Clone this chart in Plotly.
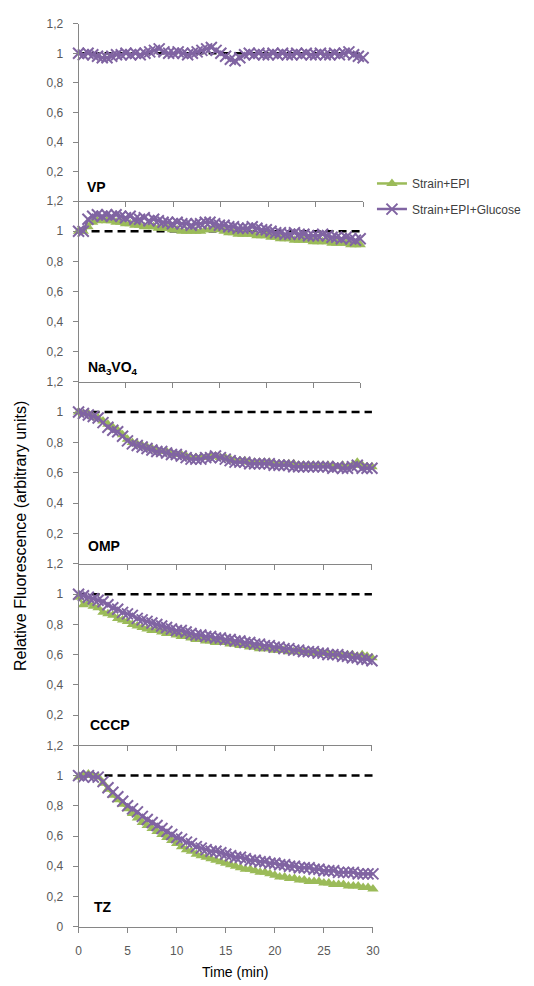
import plotly.graph_objects as go

TIME = [0, 0.5, 1, 1.5, 2, 2.5, 3, 3.5, 4, 4.5, 5, 5.5, 6, 6.5, 7, 7.5, 8, 8.5, 9, 9.5,
        10, 10.5, 11, 11.5, 12, 12.5, 13, 13.5, 14, 14.5, 15, 15.5, 16, 16.5, 17, 17.5,
        18, 18.5, 19, 19.5, 20, 20.5, 21, 21.5, 22, 22.5, 23, 23.5, 24, 24.5, 25, 25.5,
        26, 26.5, 27, 27.5, 28, 28.5, 29, 29.5, 30]

PANELS = ["VP", "Na<sub>3</sub>VO<sub>4</sub>", "OMP", "CCCP", "TZ"]
SERIES = ["Strain+EPI", "Strain+EPI+Glucose"]

VP_GLU = [1.00, 0.99, 1.00, 0.99, 0.98, 0.97, 0.97, 0.98, 0.99, 0.99, 1.00,
          0.99, 1.00, 0.99, 1.00, 1.01, 1.02, 1.03, 1.01, 1.00, 1.00,
          1.01, 1.00, 0.99, 1.00, 1.01, 1.02, 1.03, 1.04, 1.02, 1.00,
          0.98, 0.96, 0.95, 0.97, 0.99, 1.00, 0.99, 1.00, 0.99, 0.99,
          1.00, 0.99, 1.00, 0.99, 0.99, 1.00, 0.99, 1.00, 0.99, 0.99,
          1.00, 0.99, 0.99, 1.00, 0.99, 1.00, 1.01, 0.99, 0.98, 0.97]

NA_EPI = [1.00, 1.00, 1.03, 1.06, 1.07, 1.08, 1.07, 1.07, 1.06, 1.06, 1.05,
          1.05, 1.04, 1.04, 1.03, 1.03, 1.03, 1.02, 1.02, 1.02, 1.01,
          1.01, 1.00, 1.00, 1.00, 1.00, 1.00, 1.01, 1.01, 1.02, 1.01,
          1.00, 0.99, 0.99, 0.98, 0.98, 0.98, 0.98, 0.97, 0.97, 0.97,
          0.96, 0.96, 0.95, 0.95, 0.95, 0.94, 0.94, 0.94, 0.94, 0.93,
          0.93, 0.93, 0.93, 0.92, 0.92, 0.92, 0.92, 0.91, 0.91, 0.91]
NA_GLU = [1.00, 1.00, 1.08, 1.10, 1.11, 1.10, 1.11, 1.10, 1.11, 1.10, 1.09,
          1.10, 1.08, 1.08, 1.09, 1.07, 1.08, 1.07, 1.06, 1.06, 1.05,
          1.06, 1.05, 1.05, 1.04, 1.05, 1.05, 1.06, 1.06, 1.05, 1.04,
          1.04, 1.03, 1.03, 1.02, 1.02, 1.02, 1.03, 1.02, 1.01, 1.01,
          1.00, 0.99, 0.99, 0.98, 0.98, 0.99, 0.98, 0.98, 0.97, 0.97,
          0.97, 0.98, 0.97, 0.96, 0.96, 0.95, 0.96, 0.95, 0.94, 0.95]

OMP_EPI = [1.00, 0.99, 0.99, 0.97, 0.96, 0.94, 0.92, 0.90, 0.88, 0.85, 0.82,
           0.80, 0.79, 0.78, 0.77, 0.76, 0.75, 0.74, 0.74, 0.73, 0.72,
           0.72, 0.71, 0.70, 0.70, 0.70, 0.70, 0.71, 0.71, 0.70, 0.70,
           0.69, 0.68, 0.68, 0.68, 0.67, 0.67, 0.67, 0.67, 0.67, 0.66,
           0.66, 0.66, 0.66, 0.66, 0.65, 0.65, 0.65, 0.65, 0.65, 0.65,
           0.65, 0.65, 0.64, 0.65, 0.64, 0.65, 0.67, 0.65, 0.64, 0.64]
OMP_GLU = [1.00, 0.99, 0.98, 0.97, 0.96, 0.93, 0.90, 0.88, 0.87, 0.84, 0.81,
           0.79, 0.78, 0.77, 0.76, 0.75, 0.74, 0.74, 0.73, 0.72, 0.72,
           0.71, 0.70, 0.69, 0.69, 0.69, 0.70, 0.70, 0.71, 0.70, 0.69,
           0.68, 0.67, 0.67, 0.67, 0.66, 0.66, 0.66, 0.66, 0.66, 0.65,
           0.65, 0.65, 0.65, 0.64, 0.64, 0.64, 0.64, 0.64, 0.64, 0.64,
           0.64, 0.63, 0.64, 0.63, 0.63, 0.64, 0.65, 0.63, 0.63, 0.63]

CCCP_EPI = [0.98, 0.93, 0.94, 0.92, 0.91, 0.88, 0.87, 0.86, 0.84, 0.83, 0.82,
            0.80, 0.79, 0.78, 0.77, 0.76, 0.76, 0.75, 0.74, 0.74, 0.73,
            0.72, 0.72, 0.71, 0.70, 0.70, 0.69, 0.69, 0.68, 0.68, 0.68,
            0.67, 0.67, 0.66, 0.66, 0.65, 0.65, 0.64, 0.64, 0.64, 0.63,
            0.63, 0.63, 0.62, 0.62, 0.62, 0.62, 0.61, 0.61, 0.61, 0.61,
            0.61, 0.60, 0.60, 0.60, 0.60, 0.60, 0.59, 0.60, 0.59, 0.58]
CCCP_GLU = [1.00, 0.99, 0.98, 0.97, 0.96, 0.95, 0.93, 0.91, 0.90, 0.88, 0.87,
            0.86, 0.84, 0.83, 0.82, 0.81, 0.80, 0.79, 0.78, 0.77, 0.76,
            0.76, 0.75, 0.74, 0.73, 0.73, 0.72, 0.72, 0.71, 0.71, 0.70,
            0.70, 0.69, 0.69, 0.68, 0.68, 0.67, 0.67, 0.66, 0.66, 0.65,
            0.65, 0.64, 0.64, 0.63, 0.63, 0.62, 0.62, 0.62, 0.61, 0.61,
            0.60, 0.60, 0.60, 0.59, 0.59, 0.58, 0.58, 0.57, 0.57, 0.56]

TZ_EPI = [0.99, 1.00, 1.01, 1.00, 0.99, 0.95, 0.91, 0.87, 0.84, 0.81, 0.78,
          0.75, 0.72, 0.69, 0.67, 0.65, 0.63, 0.61, 0.59, 0.57, 0.55,
          0.53, 0.51, 0.50, 0.48, 0.47, 0.46, 0.45, 0.44, 0.43, 0.42,
          0.41, 0.40, 0.39, 0.38, 0.38, 0.37, 0.36, 0.36, 0.35, 0.34,
          0.33, 0.33, 0.32, 0.32, 0.31, 0.31, 0.30, 0.30, 0.30, 0.29,
          0.29, 0.28, 0.28, 0.28, 0.27, 0.27, 0.27, 0.26, 0.26, 0.25]
TZ_GLU = [1.00, 0.99, 1.00, 0.99, 0.99, 0.96, 0.92, 0.89, 0.86, 0.83, 0.80,
          0.78, 0.76, 0.73, 0.71, 0.69, 0.67, 0.65, 0.63, 0.61, 0.59,
          0.58, 0.56, 0.55, 0.53, 0.52, 0.51, 0.50, 0.50, 0.49, 0.48,
          0.47, 0.46, 0.46, 0.45, 0.44, 0.44, 0.43, 0.43, 0.42, 0.42,
          0.41, 0.41, 0.40, 0.40, 0.39, 0.39, 0.39, 0.38, 0.38, 0.37,
          0.37, 0.37, 0.36, 0.36, 0.36, 0.36, 0.35, 0.35, 0.35, 0.35]

EPI_DATA = [None, NA_EPI, OMP_EPI, CCCP_EPI, TZ_EPI]
GLU_DATA = [VP_GLU, NA_GLU, OMP_GLU, CCCP_GLU, TZ_GLU]

REF_X = [0, 30]
REF_Y = [1, 1]

X_TICKS = [0, 5, 10, 15, 20, 25, 30]
Y_TICKS = [0, 0.2, 0.4, 0.6, 0.8, 1.0, 1.2]
Y_TEXT = ["0", "0,2", "0,4", "0,6", "0,8", "1", "1,2"]

W, H = 534, 986
GREEN = "#9BBB59"
PURPLE = "#8064A2"
AXC = "#868686"
TXT = "#595959"
FONT = "Liberation Sans, Arial, sans-serif"

# pixel geometry of each panel (top, bottom, right end of x axis)
TOPS = [17, 197, 380, 565, 749]
BOTS = [197, 380, 565, 749, 933]
RIGHTS = [367, 364, 376, 376, 377]
LEFT = 77

fig = go.Figure()
for i in range(5):
    xa = "x" if i == 0 else f"x{i+1}"
    ya = "y" if i == 0 else f"y{i+1}"
    fig.add_trace(go.Scatter(x=REF_X, y=REF_Y, mode="lines", xaxis=xa, yaxis=ya,
                             line=dict(color="black", width=2.5, dash="8px,5px"),
                             showlegend=False, hoverinfo="skip", cliponaxis=False))
    if EPI_DATA[i] is not None:
        fig.add_trace(go.Scatter(x=TIME, y=EPI_DATA[i], mode="lines+markers", name=SERIES[0],
                                 xaxis=xa, yaxis=ya, cliponaxis=False,
                                 line=dict(color=GREEN, width=2.5),
                                 marker=dict(symbol="triangle-up", size=10, color=GREEN),
                                 showlegend=(i == 1), legend="legend"))
    fig.add_trace(go.Scatter(x=TIME, y=GLU_DATA[i], mode="lines+markers", name=SERIES[1],
                             xaxis=xa, yaxis=ya, cliponaxis=False,
                             line=dict(color=PURPLE, width=2.5),
                             marker=dict(symbol="x-thin", size=11, color=PURPLE,
                                         line=dict(color=PURPLE, width=2)),
                             showlegend=(i == 1), legend="legend2"))

layout = dict(width=W, height=H, margin=dict(l=0, r=0, t=0, b=0),
              paper_bgcolor="white", plot_bgcolor="white",
              font=dict(family=FONT, size=12, color=TXT))
for i in range(5):
    xk = "xaxis" if i == 0 else f"xaxis{i+1}"
    yk = "yaxis" if i == 0 else f"yaxis{i+1}"
    ya = "y" if i == 0 else f"y{i+1}"
    xa = "x" if i == 0 else f"x{i+1}"
    layout[xk] = dict(domain=[LEFT / W, RIGHTS[i] / W], range=[0, 30], anchor=ya,
                      showline=True, linecolor=AXC, linewidth=1, showgrid=False, zeroline=False,
                      ticks="outside", ticklen=5, tickcolor=AXC, tickwidth=1,
                      tickvals=X_TICKS, showticklabels=(i == 4),
                      tickfont=dict(family=FONT, size=12, color=TXT), ticklabelstandoff=8)
    tv = Y_TICKS if i == 4 else Y_TICKS[1:]
    tt = Y_TEXT if i == 4 else Y_TEXT[1:]
    layout[yk] = dict(domain=[1 - BOTS[i] / H, 1 - TOPS[i] / H], range=[0, 1.2], anchor=xa,
                      showline=True, linecolor=AXC, linewidth=1, showgrid=False, zeroline=False,
                      ticks="outside", ticklen=5, tickcolor=AXC, tickwidth=1,
                      tickvals=tv, ticktext=tt,
                      tickfont=dict(family=FONT, size=12, color=TXT), ticklabelstandoff=7)

layout["legend"] = dict(x=376 / W, y=1 - 179 / H, xanchor="left", yanchor="middle",
                        bgcolor="rgba(0,0,0,0)", font=dict(family=FONT, size=12, color="#404040"))
layout["legend2"] = dict(x=376 / W, y=1 - 205 / H, xanchor="left", yanchor="middle",
                         bgcolor="rgba(0,0,0,0)", font=dict(family=FONT, size=12, color="#404040"))

LABEL_POS = [(84, 183), (85, 366), (85, 547), (87, 728), (91, 913)]
ann = []
for i in range(5):
    ann.append(dict(text=f"<b>{PANELS[i]}</b>", x=LABEL_POS[i][0] / W, y=1 - LABEL_POS[i][1] / H,
                    xref="paper", yref="paper", xanchor="left", yanchor="middle", showarrow=False,
                    font=dict(family=FONT, size=14, color="black")))
ann.append(dict(text="Time (min)", x=236 / W, y=1 - 979 / H, xref="paper", yref="paper",
                xanchor="center", yanchor="middle", showarrow=False,
                font=dict(family=FONT, size=14, color="black")))
ann.append(dict(text="Relative Fluorescence (arbitrary units)", x=18 / W, y=1 - 537 / H,
                xref="paper", yref="paper", xanchor="center", yanchor="middle", showarrow=False,
                textangle=-90, font=dict(family=FONT, size=16, color="black")))
layout["annotations"] = ann

fig.update_layout(**layout)
fig.write_html("out.html")
